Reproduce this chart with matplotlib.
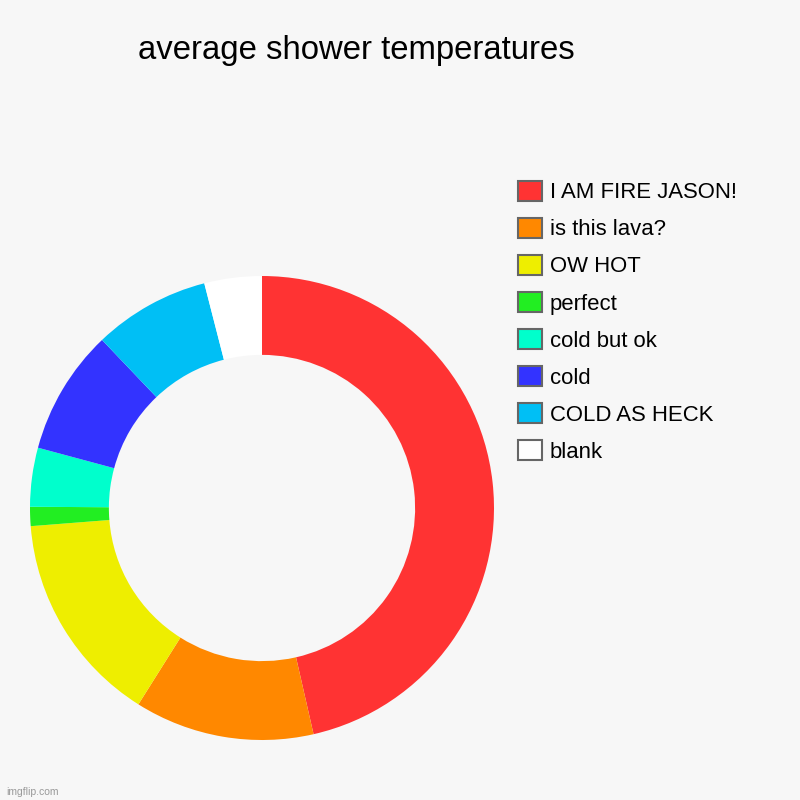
import matplotlib
matplotlib.use("Agg")
import matplotlib.pyplot as plt
from matplotlib.patches import Patch

labels = ["I AM FIRE JASON!", "is this lava?", "OW HOT", "perfect",
          "cold but ok", "cold", "COLD AS HECK", "blank"]
values = [46.4, 12.5, 14.8, 1.33, 4.1, 8.7, 8.1, 4.0]
colors = ["#ff3333", "#ff8800", "#eeee00", "#22ee22",
          "#00ffcc", "#3333ff", "#00bff5", "#ffffff"]
title = "average shower temperatures"

plt.rcParams['font.family'] = ['Liberation Sans', 'DejaVu Sans']
bg = "#f7f7f7"
fig = plt.figure(figsize=(8, 8), dpi=100, facecolor=bg)
ax = fig.add_axes([0.0375, 0.075, 0.58, 0.58])
ax.set_facecolor(bg)
ax.pie(values, colors=colors, startangle=90, counterclock=False,
       radius=1.0, wedgeprops=dict(width=0.34, edgecolor='none'))
ax.set_xlim(-1, 1)
ax.set_ylim(-1, 1)
ax.set_aspect('equal')
ax.axis('off')

fig.text(0.445, 1 - 59 / 800, title, ha='center', va='baseline',
         fontsize=23.7, color='black')

handles = [Patch(facecolor=c, edgecolor='#666666', linewidth=1.5) for c in colors]
fig.legend(handles, labels, loc='upper left',
           bbox_to_anchor=(518 / 800, 1 - 181 / 800),
           frameon=False, fontsize=15.9, handlelength=1.08, handleheight=1.0,
           handletextpad=0.36, labelspacing=0.66, borderpad=0, borderaxespad=0)

fig.text(6 / 800, 1 - 795 / 800, "imgflip.com", fontsize=7.5, color='#999999',
         ha='left', va='baseline')

fig.savefig("out.png", dpi=100, facecolor=bg)
